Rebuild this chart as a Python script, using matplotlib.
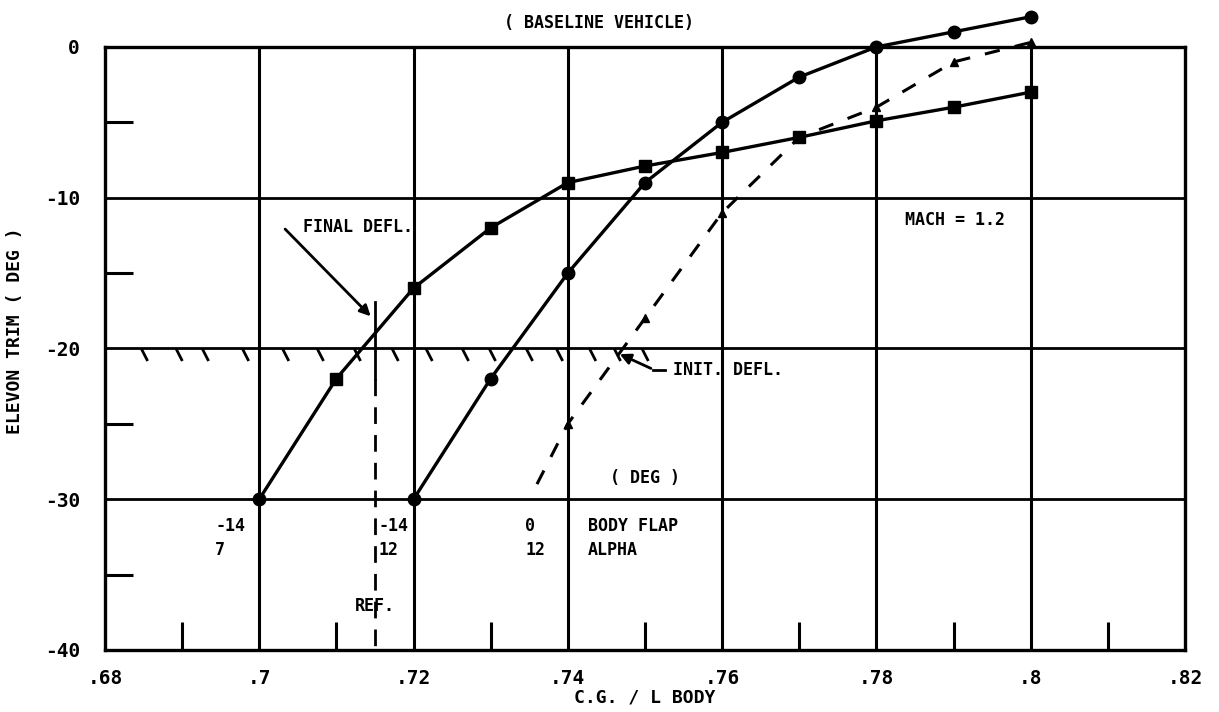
import numpy as np
import matplotlib.pyplot as plt

plt.rcParams['font.family'] = ['DejaVu Sans Mono', 'DejaVu Sans']
plt.rcParams['font.weight'] = 'bold'

# c.g. positions (x / L body)
cg = [.70, .71, .72, .73, .74, .75, .76, .77, .78, .79, .80]

# body flap -14, alpha 7 (squares, solid)
trim_bf14_a7 = [-30, -22, -16, -12, -9, -7.9, -7, -6, -4.9, -4, -3]
# body flap -14, alpha 12 (circles, solid)
cg_a12 = [.72, .73, .74, .75, .76, .77, .78, .79, .80]
trim_bf14_a12 = [-30, -22, -15, -9, -5, -2, 0, 1, 2]
# body flap 0, alpha 12 (triangles, dashed) - first point is the extrapolated end of the line
cg_bf0 = [.736, .74, .75, .76, .77, .78, .79, .80]
trim_bf0_a12 = [-29, -25, -18, -11, -6, -4, -1, 0.3]

# hatched limit line at -20 deg
limit_y = -20
hatch_x = [.6848, .6893, .6927, .6979, .7031, .7076, .7124, .7173, .7217,
           .7264, .7299, .7347, .7386, .7429, .7461, .7497]

ref_cg = .715

fig = plt.figure(figsize=(12.19, 7.12), dpi=100)
ax = fig.add_axes([0.0861, 0.0871, 0.886, 0.847])
ax.set_xlim(.68, .82)
ax.set_ylim(-40, 0)

# grid
for x in [.70, .72, .74, .76, .78, .80]:
    ax.axvline(x, color='k', lw=2.2, zorder=1)
for y in [-10, -20, -30]:
    ax.axhline(y, color='k', lw=2.0, zorder=1)
for s in ax.spines.values():
    s.set_linewidth(2.4)

ax.set_xticks([.68, .70, .72, .74, .76, .78, .80, .82])
ax.set_xticklabels(['.68', '.7', '.72', '.74', '.76', '.78', '.8', '.82'])
ax.set_yticks([0, -10, -20, -30, -40])
ax.set_yticklabels(['0', '-10', '-20', '-30', '-40'])
ax.set_xticks([.69, .71, .73, .75, .77, .79, .81], minor=True)
ax.set_yticks([-5, -15, -25, -35], minor=True)
ax.tick_params(which='major', length=0, labelsize=14, pad=14)
ax.tick_params(which='minor', direction='in', length=20, width=2.2)
ax.tick_params(axis='y', which='major', pad=18)

ax.set_xlabel('C.G. / L BODY', fontsize=13, fontweight='bold', labelpad=0)
ax.set_ylabel('ELEVON TRIM ( DEG )', fontsize=13, fontweight='bold', labelpad=10)
ax.yaxis.set_label_coords(-0.075, 0.53)

# curves
ax.plot(cg, trim_bf14_a7, 'k-', lw=2.4, zorder=3, clip_on=False)
ax.plot(cg[1:], trim_bf14_a7[1:], 'ks', ms=8, zorder=4, clip_on=False)
ax.plot(cg[0], trim_bf14_a7[0], 'ko', ms=9, zorder=4)

ax.plot(cg_a12, trim_bf14_a12, 'k-o', lw=2.4, ms=9, zorder=3, clip_on=False)

ax.plot(cg_bf0, trim_bf0_a12, 'k', ls=(0, (5, 5)), lw=2.2, zorder=3, clip_on=False)
ax.plot(cg_bf0[1:], trim_bf0_a12[1:], 'k^', ms=6, zorder=4, clip_on=False)

# limit line hatching
for hx in hatch_x:
    ax.plot([hx, hx + .00065], [limit_y - .1, limit_y - .75], 'k-', lw=2, zorder=2)

# reference c.g.
ax.plot([ref_cg, ref_cg], [-16.9, -22], 'k-', lw=2, zorder=2)
ax.plot([ref_cg, ref_cg], [-22, -40], 'k', ls=(0, (6, 4)), lw=2, zorder=2)
ax.text(ref_cg, -37.1, 'REF.', ha='center', va='center', fontsize=12)

# annotations
ax.annotate('', xy=(.7147, -18.0), xytext=(.7031, -11.95),
            arrowprops=dict(arrowstyle='-|>', color='k', lw=2, mutation_scale=16))
ax.text(.7057, -11.95, 'FINAL DEFL.', ha='left', va='center', fontsize=12)
ax.plot([.7526, .7511], [-21.4, -21.4], 'k-', lw=2)
ax.annotate('', xy=(.7464, -20.3), xytext=(.7511, -21.4),
            arrowprops=dict(arrowstyle='-|>', color='k', lw=2, mutation_scale=16))
ax.text(.7536, -21.4, 'INIT. DEFL.', ha='left', va='center', fontsize=12)

ax.text(.7837, -11.5, 'MACH = 1.2', ha='left', va='center', fontsize=12)
ax.text(.744, 1.6, '( BASELINE VEHICLE)', ha='center', va='center', fontsize=12)
ax.text(.750, -28.6, '( DEG )', ha='center', va='center', fontsize=12)

ax.text(.6943, -31.8, '-14', ha='left', va='center', fontsize=12)
ax.text(.6943, -33.4, '7', ha='left', va='center', fontsize=12)
ax.text(.7155, -31.8, '-14', ha='left', va='center', fontsize=12)
ax.text(.7155, -33.4, '12', ha='left', va='center', fontsize=12)
ax.text(.7345, -31.8, '0', ha='left', va='center', fontsize=12)
ax.text(.7345, -33.4, '12', ha='left', va='center', fontsize=12)
ax.text(.7426, -31.8, 'BODY FLAP', ha='left', va='center', fontsize=12)
ax.text(.7426, -33.4, 'ALPHA', ha='left', va='center', fontsize=12)

fig.savefig('out.png', dpi=100)
